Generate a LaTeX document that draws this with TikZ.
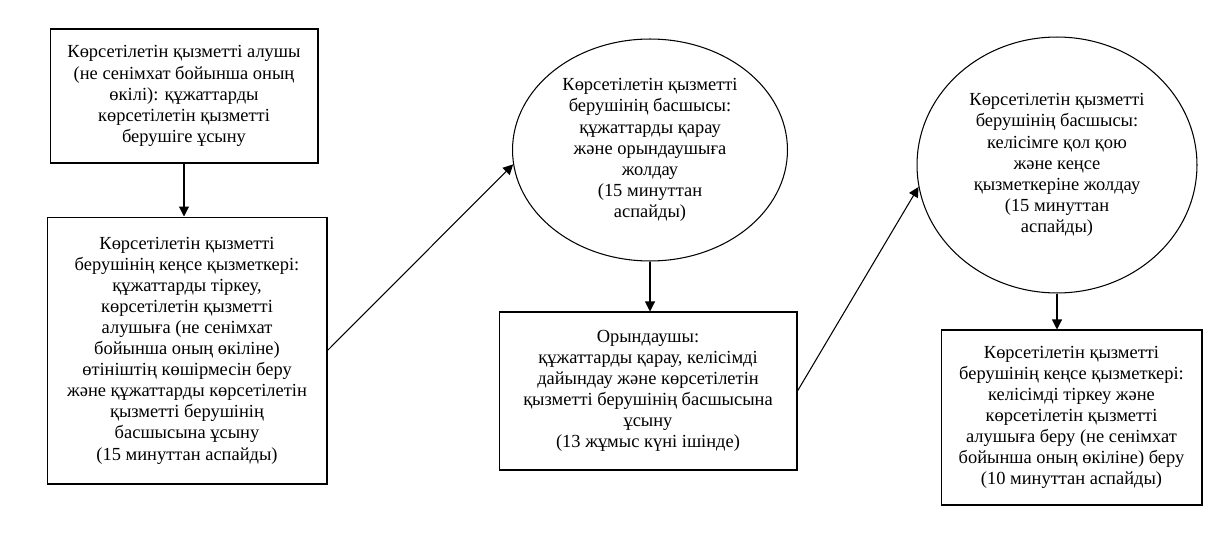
\documentclass[tikz,border=0pt]{standalone}
\usepackage{fontspec}
\setmainfont{Liberation Serif}
\usetikzlibrary{shapes.geometric,arrows.meta,positioning}

\begin{document}
\begin{tikzpicture}[
	x=0.02cm,
	y=-0.02cm,
	>={Triangle[length=2mm,width=2mm]},
	font=\fontsize{10.5}{12}\selectfont,
	align=center,
	stage/.style={
		rectangle,
		draw,
		line width=0.6pt,
		inner sep=0pt
	},
	head/.style={
		ellipse,
		draw,
		line width=0.6pt,
		inner sep=0pt
	}]

	\useasboundingbox (0,0) rectangle (1231,544);

	% boxes and ellipses, placed at pixel positions of the reference
	\node[stage, minimum width=5.36cm, minimum height=2.68cm] (applicant) at (184,96)
		{Көрсетілетін қызметті алушы\\(не сенімхат бойынша оның\\өкілі): құжаттарды\\көрсетілетін қызметті\\берушіге ұсыну};
	\node[stage, minimum width=5.6cm, minimum height=5.34cm] (office) at (187,350.5)
		{Көрсетілетін қызметті\\берушінің кеңсе қызметкері:\\құжаттарды тіркеу,\\көрсетілетін қызметті\\алушыға (не сенімхат\\бойынша оның өкіліне)\\өтініштің көшірмесін беру\\және құжаттарды көрсетілетін\\қызметті берушінің\\басшысына ұсыну\\(15 минуттан аспайды)};
	\node[head, minimum width=5.5cm, minimum height=4.44cm] (chief) at (650,150)
		{Көрсетілетін қызметті\\берушінің басшысы:\\құжаттарды қарау\\және орындаушыға\\жолдау\\(15 минуттан\\аспайды)};
	\node[stage, minimum width=5.96cm, minimum height=3.16cm] (executor) at (648,391)
		{Орындаушы:\\құжаттарды қарау, келісімді\\дайындау және көрсетілетін\\қызметті берушінің басшысына\\ұсыну\\(13 жұмыс күні ішінде)};
	\node[head, minimum width=5.6cm, minimum height=5.12cm] (signer) at (1057,165)
		{Көрсетілетін қызметті\\берушінің басшысы:\\келісімге қол қою\\және кеңсе\\қызметкеріне жолдау\\(15 минуттан\\аспайды)};
	\node[stage, minimum width=5.22cm, minimum height=3.5cm] (issue) at (1071.5,417.5)
		{Көрсетілетін қызметті\\берушінің кеңсе қызметкері:\\келісімді тіркеу және\\көрсетілетін қызметті\\алушыға беру (не сенімхат\\бойынша оның өкіліне) беру\\(10 минуттан аспайды)};

	% connectors
	\path[->, line width=0.6pt]
		(applicant.south) edge (applicant.south |- office.north)
		(office.east) edge (chief.186)
		(chief.south) edge (chief.south |- executor.north)
		(executor.east) edge (signer.189)
		(signer.south) edge (signer.south |- issue.north);
\end{tikzpicture}
\end{document}
